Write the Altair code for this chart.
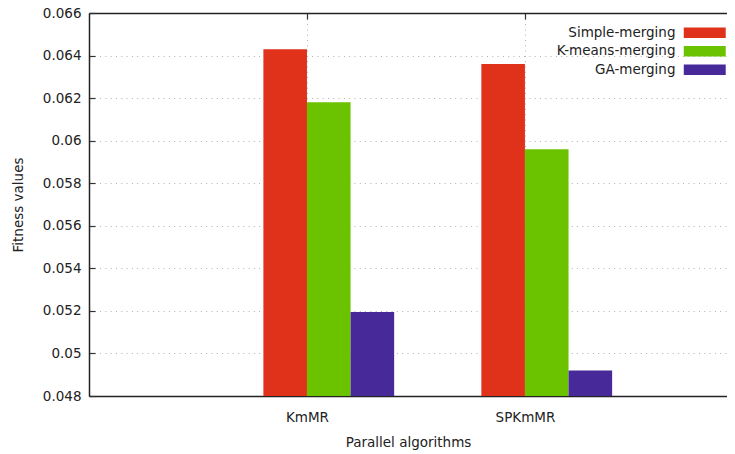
import altair as alt
import pandas as pd

categories = ["KmMR", "SPKmMR"]
series = ["Simple-merging", "K-means-merging", "GA-merging"]
simple_merging = [0.0643, 0.0636]
kmeans_merging = [0.0618, 0.0596]
ga_merging = [0.05195, 0.0492]
colors = ["#E0321A", "#6BC300", "#47299A"]
y_ticks = [0.048, 0.05, 0.052, 0.054, 0.056, 0.058, 0.06, 0.062, 0.064, 0.066]

values = [simple_merging, kmeans_merging, ga_merging]
bar_w = 0.2
rows = []
for si, s in enumerate(series):
    for ci, c in enumerate(categories):
        x0 = ci + (si - 1) * bar_w
        rows.append({"category": c, "series": s, "value": values[si][ci],
                     "x0": x0, "x1": x0 + bar_w, "order": si})
df = pd.DataFrame(rows)

FONT = "DejaVu Sans"
FS = 13.5
TXT = "#222222"
label_expr = "datum.value == 0 ? '%s' : datum.value == 1 ? '%s' : ''" % (categories[0], categories[1])

x_scale = alt.Scale(domain=[-1, 1.927], nice=False, zero=False)
y_scale = alt.Scale(domain=[y_ticks[0], y_ticks[-1]], nice=False, zero=False)

common_axis = dict(gridDash=[1, 4.3], gridColor="#b0b0b0", gridWidth=1,
                   ticks=True, tickSize={"expr": "-6"}, tickColor="#333333", tickWidth=1.2,
                   domainColor="#222222", domainWidth=1.5,
                   labelFont=FONT, titleFont=FONT, labelFontSize=FS, titleFontSize=FS,
                   titleFontWeight="normal", labelColor=TXT, titleColor=TXT)

bars = alt.Chart(df).mark_bar(strokeWidth=0).encode(
    x=alt.X("x0:Q", scale=x_scale,
            axis=alt.Axis(values=[0, 1], labelExpr=label_expr, title="Parallel algorithms",
                          grid=True, labelPadding=20, titlePadding=12, **common_axis)),
    x2="x1:Q",
    y=alt.Y("value:Q", scale=y_scale,
            axis=alt.Axis(values=y_ticks, format="~g", title="Fitness values",
                          grid=True, labelPadding=14, titlePadding=17, **common_axis)),
    y2=alt.datum(y_ticks[0]),
    color=alt.Color("series:N", scale=alt.Scale(domain=series, range=colors),
                    sort=series,
                    legend=alt.Legend(title=None, orient="none", legendX=609, legendY=13,
                                      symbolType="M-4,-1H4V1H-4Z", symbolSize=110,
                                      symbolStrokeWidth=0, symbolOpacity=1,
                                      labelAlign="right", labelOffset={"expr": "-36"},
                                      labelFont=FONT, labelFontSize=FS, labelColor=TXT,
                                      rowPadding=3.5, labelLimit=300)),
)

top_axis = alt.Chart(df).mark_bar(opacity=0).encode(
    x=alt.X("x0:Q", scale=x_scale,
            axis=alt.Axis(orient="top", values=[0, 1], labels=False, title=None,
                          grid=False, **common_axis)),
    x2="x1:Q",
    y=alt.Y("value:Q", scale=y_scale, axis=None),
    y2=alt.datum(y_ticks[0]),
)

chart = alt.layer(bars, top_axis).resolve_axis(x="independent", y="independent").properties(
    width=638, height=383,
    autosize=alt.AutoSizeParams(type="none"),
    padding={"left": 81, "top": 5, "right": 0, "bottom": 58},
    background="white",
).configure_view(stroke=None)

chart.save("out.html", embed_options={"renderer": "svg", "actions": False})
